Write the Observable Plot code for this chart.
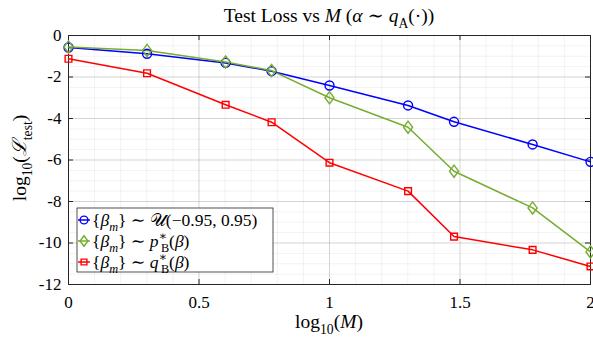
<!DOCTYPE html>
<html>
<head>
<meta charset="utf-8">
<script src="https://cdn.jsdelivr.net/npm/d3@7"></script>
<script src="https://cdn.jsdelivr.net/npm/@observablehq/plot@0.6"></script>
<style>
  html, body { margin: 0; padding: 0; background: white; }
</style>
</head>
<body>
<div id="chart"></div>
<script>
// ---- data ----
const M = [1, 2, 4, 6, 10, 20, 30, 60, 100];
const lossUniform = [-0.58, -0.88, -1.32, -1.72, -2.41, -3.37, -4.16, -5.25, -6.09];
const lossPB      = [-0.55, -0.72, -1.28, -1.69, -3.00, -4.42, -6.54, -8.31, -10.43];
const lossQB      = [-1.12, -1.82, -3.34, -4.18, -6.13, -7.50, -9.69, -10.33, -11.13];
const xTicks = [0, 0.5, 1, 1.5, 2];
const yTicks = [0, -2, -4, -6, -8, -10, -12];
const xMinor = d3.range(0, 21).map(i => i / 10);
const yMinor = d3.range(0, 25).map(i => -i / 2);
const seriesNames = ["uniform", "pB", "qB"];
const colors = ["#0000ff", "#77ac30", "#ff0000"];

const diamond = {
  draw(ctx, size) {
    const h = Math.sqrt(size / 1.5);
    const w = h * 0.75;
    ctx.moveTo(0, -h); ctx.lineTo(w, 0); ctx.lineTo(0, h); ctx.lineTo(-w, 0); ctx.closePath();
  }
};
const symbols = ["circle", diamond, "square"];
const radii = [4.5, 4.2, 3.8];

const allSeries = [lossUniform, lossPB, lossQB];
const rows = allSeries.flatMap((arr, s) => arr.map((v, i) => ({s, x: Math.log10(M[i]), y: v})));

const W = 593, H = 339, mL = 68, mR = 3, mT = 35, mB = 55;
const frameH = H - mT - mB, frameW = W - mL - mR;
const axisColor = "#262626";
const font = "'Liberation Serif', 'DejaVu Serif', serif";

const chart = Plot.plot({
  width: W, height: H,
  marginLeft: mL, marginRight: mR, marginTop: mT, marginBottom: mB,
  x: {domain: [0, 2], label: null},
  y: {domain: [-12, 0], label: null},
  style: {fontFamily: font, fontSize: "17px", color: axisColor, background: "white"},
  marks: [
    Plot.gridX(xMinor, {stroke: "#000", strokeOpacity: 0.05}),
    Plot.gridY(yMinor, {stroke: "#000", strokeOpacity: 0.05}),
    Plot.gridX(xTicks, {stroke: "#000", strokeOpacity: 0.12}),
    Plot.gridY(yTicks, {stroke: "#000", strokeOpacity: 0.12}),
    Plot.axisX(xTicks, {tickSize: 0, tickPadding: 11, tickFormat: d => String(d), fontSize: 17, fill: "#000", textAnchor: "middle"}),
    Plot.axisY(yTicks, {tickSize: 0, tickPadding: 7, tickFormat: d => String(d), fontSize: 17, fill: "#000"}),
    Plot.ruleX(xTicks, {insetTop: frameH - 5, stroke: axisColor}),
    Plot.ruleX(xTicks, {insetBottom: frameH - 5, stroke: axisColor}),
    Plot.ruleY(yTicks, {insetRight: frameW - 5, stroke: axisColor}),
    Plot.ruleY(yTicks, {insetLeft: frameW - 5, stroke: axisColor}),
    Plot.frame({stroke: axisColor, strokeWidth: 1}),
    ...seriesNames.map((n, s) => Plot.line(rows.filter(d => d.s === s), {x: "x", y: "y", stroke: colors[s], strokeWidth: 1.5})),
    ...seriesNames.map((n, s) => Plot.dot(rows.filter(d => d.s === s), {x: "x", y: "y", stroke: colors[s], fill: "none", strokeWidth: 1.4, symbol: () => symbols[s], r: radii[s]}))
  ]
});
document.getElementById("chart").appendChild(chart);

// ---- rich text helpers ----
const svg = d3.select(chart);
function rich(g, segs, size) {
  let shift = 0;
  for (const s of segs) {
    const ts = g.append("tspan").text(s.t);
    const target = s.sub ? size * 0.3 : s.sup ? -size * 0.38 : 0;
    if (target !== shift) ts.attr("dy", target - shift);
    shift = target;
    if (s.sub || s.sup) ts.attr("font-size", size * 0.7);
    if (s.it) ts.attr("font-style", "italic");
    if (s.dx) ts.attr("dx", s.dx);
  }
}
function addText(x, y, segs, size, anchor, rotate) {
  const t = svg.append("text")
    .attr("x", x).attr("y", y)
    .attr("font-family", font).attr("font-size", size)
    .attr("fill", "#000").attr("text-anchor", anchor || "middle");
  if (rotate) t.attr("transform", `rotate(${rotate},${x},${y})`);
  rich(t, segs, size);
  return t;
}

// title
addText(329, 22, [
  {t: "Test Loss vs "}, {t: "M", it: true}, {t: " ("}, {t: "α", it: true}, {t: " ∼ "},
  {t: "q", it: true}, {t: "A", sub: true}, {t: "(·))"}
], 19.5);
// x label
addText(329, 328, [{t: "log"}, {t: "10", sub: true}, {t: "("}, {t: "M", it: true}, {t: ")"}], 19.5);
// y label
addText(26, 158, [{t: "log"}, {t: "10", sub: true}, {t: "("}, {t: "ℒ", it: true}, {t: "test", sub: true}, {t: ")"}], 19.5, "middle", -90);

// legend
const lg = svg.append("g");
const lx = 77, ly = 208, lw = 196, lh = 64;
lg.append("rect").attr("x", lx).attr("y", ly).attr("width", lw).attr("height", lh)
  .attr("fill", "white").attr("stroke", axisColor).attr("stroke-width", 0.8);
const legendTexts = [
  [{t: "{"}, {t: "β", it: true}, {t: "m", it: true, sub: true}, {t: "} ∼ "}, {t: "𝒰"}, {t: "(−0.95, 0.95)"}],
  [{t: "{"}, {t: "β", it: true}, {t: "m", it: true, sub: true}, {t: "} ∼ "}, {t: "p", it: true}, {t: "∗", sup: true}, {t: "B", sub: true, dx: -6}, {t: "("}, {t: "β", it: true}, {t: ")"}],
  [{t: "{"}, {t: "β", it: true}, {t: "m", it: true, sub: true}, {t: "} ∼ "}, {t: "q", it: true}, {t: "∗", sup: true}, {t: "B", sub: true, dx: -6}, {t: "("}, {t: "β", it: true}, {t: ")"}]
];
const sym = [d3.symbolCircle, diamond, d3.symbolSquare];
legendTexts.forEach((segs, i) => {
  const cy = ly + 12 + i * 21;
  lg.append("line").attr("x1", lx + 1).attr("x2", lx + 13).attr("y1", cy).attr("y2", cy)
    .attr("stroke", colors[i]).attr("stroke-width", 1.5);
  lg.append("path").attr("transform", `translate(${lx + 7},${cy})`)
    .attr("d", d3.symbol(sym[i], Math.PI * radii[i] * radii[i] * 0.75)())
    .attr("fill", "none").attr("stroke", colors[i]).attr("stroke-width", 1.4);
  addText(lx + 15, cy + 5.5, segs, 17.5, "start");
});
</script>
</body>
</html>
